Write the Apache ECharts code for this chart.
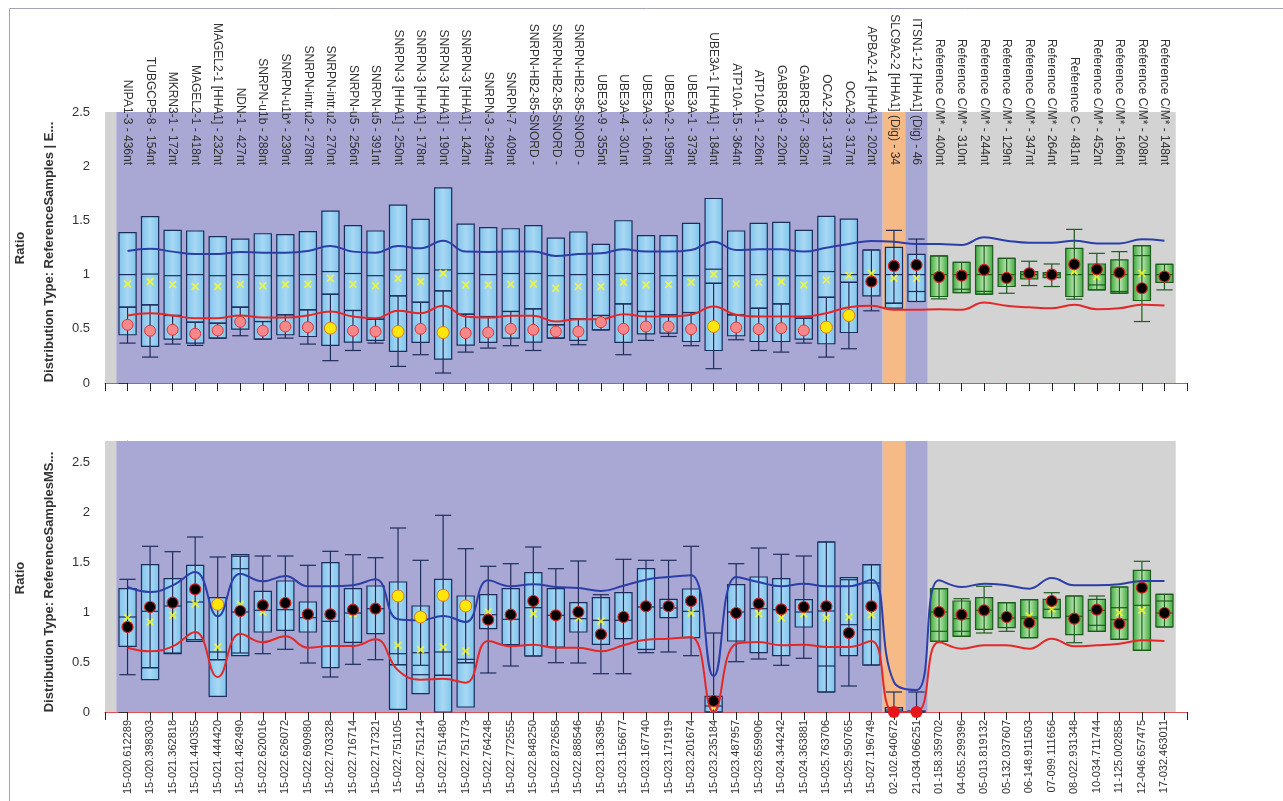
<!DOCTYPE html>
<html>
<head>
<meta charset="utf-8">
<script src="https://cdn.jsdelivr.net/npm/echarts@6/dist/echarts.min.js"></script>
<style>
  html, body { margin: 0; padding: 0; background: #fff; }
  #chart { width: 1283px; height: 801px; }
</style>
</head>
<body>
<div id="chart"></div>
<script>
// probe names (top panel) and sample names (bottom panel)
const probeLabels = [
  'NIPA1-3 - 436nt', 'TUBGCP5-8 - 154nt', 'MKRN3-1 - 172nt', 'MAGEL2-1 - 418nt', 'MAGEL2-1 [HHA1] - 232nt',
  'NDN-1 - 427nt', 'SNRPN-u1b - 288nt', 'SNRPN-u1b* - 239nt', 'SNRPN-intr.u2 - 278nt', 'SNRPN-intr.u2 - 270nt',
  'SNRPN-u5 - 256nt', 'SNRPN-u5 - 391nt', 'SNRPN-3 [HHA1] - 250nt', 'SNRPN-3 [HHA1] - 178nt', 'SNRPN-3 [HHA1] - 190nt',
  'SNRPN-3 [HHA1] - 142nt', 'SNRPN-3 - 294nt', 'SNRPN-7 - 409nt', 'SNRPN-HB2-85-SNORD -', 'SNRPN-HB2-85-SNORD -',
  'SNRPN-HB2-85-SNORD -', 'UBE3A-9 - 355nt', 'UBE3A-4 - 301nt', 'UBE3A-3 - 160nt', 'UBE3A-2 - 195nt',
  'UBE3A-1 - 373nt', 'UBE3A-1 [HHA1] - 184nt', 'ATP10A-15 - 364nt', 'ATP10A-1 - 226nt', 'GABRB3-9 - 220nt',
  'GABRB3-7 - 382nt', 'OCA2-23 - 137nt', 'OCA2-3 - 317nt', 'APBA2-14 [HHA1] - 202nt', 'SLC9A2-2 [HHA1] (Dig) - 34',
  'ITSN1-12 [HHA1] (Dig) - 46', 'Reference C/M* - 400nt', 'Reference C/M* - 310nt', 'Reference C/M* - 244nt',
  'Reference C/M* - 129nt', 'Reference C/M* - 347nt', 'Reference C/M* - 264nt', 'Reference C - 481nt',
  'Reference C/M* - 452nt', 'Reference C/M* - 166nt', 'Reference C/M* - 208nt', 'Reference C/M* - 148nt'
];
const sampleLabels = [
  '15-020.612289', '15-020.398303', '15-021.362818', '15-021.440355', '15-021.444420', '15-021.482490',
  '15-022.620016', '15-022.626072', '15-022.690980', '15-022.703328', '15-022.716714', '15-022.717321',
  '15-022.751105', '15-022.751214', '15-022.751480', '15-022.751773', '15-022.764248', '15-022.772555',
  '15-022.848250', '15-022.872658', '15-022.888546', '15-023.136395', '15-023.156677', '15-023.167740',
  '15-023.171919', '15-023.201674', '15-023.235184', '15-023.487957', '15-023.659906', '15-024.344242',
  '15-024.363881', '15-025.763706', '15-025.950765', '15-027.196749', '02-102.640672', '21-034.066251',
  '01-158.359702', '04-055.299396', '05-013.819132', '05-132.037607', '06-148.911503', '07-099.111656',
  '08-022.931348', '10-034.711744', '11-125.002858', '12-046.657475', '17-032.463011'
];
const refStart = 36; // first reference probe / sample (green boxes)

// ---- top panel: ReferenceSamples ----
const topBoxHigh = [1.387, 1.534, 1.408, 1.402, 1.35, 1.328, 1.377, 1.368, 1.396, 1.586, 1.451, 1.402, 1.641, 1.509, 1.80, 1.466,
  1.433, 1.423, 1.451, 1.337, 1.393, 1.279, 1.497, 1.359, 1.359, 1.472, 1.702, 1.402, 1.472, 1.482, 1.408, 1.537, 1.512,
  1.227, 1.252, 1.187, 1.172, 1.113, 1.267, 1.15, 1.028, 1.018, 1.242, 1.098, 1.135, 1.267, 1.095];
const topBoxLow = [0.445, 0.337, 0.405, 0.368, 0.414, 0.497, 0.405, 0.445, 0.429, 0.347, 0.377, 0.393, 0.291, 0.374, 0.221, 0.35,
  0.374, 0.414, 0.377, 0.414, 0.393, 0.49, 0.374, 0.454, 0.46, 0.383, 0.30, 0.436, 0.383, 0.383, 0.405, 0.362, 0.466,
  0.804, 0.69, 0.752, 0.798, 0.834, 0.819, 0.89, 0.96, 0.972, 0.798, 0.859, 0.828, 0.761, 0.929];
const topMedian = [1.0, 1.005, 0.99, 1.0, 0.99, 1.0, 0.99, 0.99, 1.0, 1.028, 1.01, 0.99, 1.043, 1.01, 1.043, 1.01,
  1.0, 1.01, 1.01, 0.99, 1.0, 1.0, 1.01, 1.01, 0.99, 0.99, 1.05, 0.99, 1.0, 0.99, 0.99, 1.028, 1.0,
  1.0, 1.0, 1.0, 1.0, 1.0, 1.0, 1.0, 1.0, 1.0, 1.0, 1.0, 1.0, 1.0, 1.0];
const topInner = [0.70, 0.721, 0.623, 0.561, 0.552, 0.70, 0.567, 0.629, 0.675, 0.819, 0.669, 0.589, 0.804, 0.745, 0.85, 0.635,
  0.613, 0.66, 0.684, 0.537, 0.592, 0.623, 0.73, 0.66, 0.629, 0.65, 0.92, 0.629, 0.69, 0.73, 0.598, 0.791, 0.929,
  null, 0.736, 0.844, null, 0.865, 0.845, null, null, null, null, 0.905, 0.844, 1.175, null];
const topWhiskerHigh = [0.70, 0.721, 0.623, 0.561, 0.552, 0.70, 0.567, 0.629, 0.675, 0.819, 0.669, 0.589, 0.804, 0.745, 0.85, 0.635,
  0.613, 0.66, 0.684, 0.537, 0.592, 0.623, 0.73, 0.66, 0.629, 0.65, 0.92, 0.629, 0.69, 0.73, 0.598, 0.791, 0.929,
  1.227, 1.408, 1.328, 1.172, 1.113, 1.267, 1.15, 1.123, 1.098, 1.417, 1.196, 1.212, 1.267, 1.095];
const topWhiskerLow = [0.368, 0.239, 0.359, 0.347, 0.414, 0.436, 0.405, 0.414, 0.359, 0.206, 0.30, 0.368, 0.153, 0.261, 0.092, 0.285,
  0.322, 0.344, 0.30, 0.414, 0.353, 0.49, 0.261, 0.393, 0.429, 0.344, 0.132, 0.399, 0.30, 0.285, 0.368, 0.239, 0.316,
  0.666, 0.736, 0.752, 0.776, 0.834, 0.819, 0.828, 0.899, 0.89, 0.773, 0.859, 0.828, 0.567, 0.859];
const topMean = [0.914, 0.936, 0.908, 0.89, 0.89, 0.911, 0.896, 0.908, 0.911, 0.966, 0.911, 0.896, 0.966, 0.936, 1.012, 0.905,
  0.905, 0.911, 0.914, 0.874, 0.89, 0.89, 0.929, 0.905, 0.908, 0.929, 1.003, 0.914, 0.926, 0.936, 0.905, 0.951, 0.991,
  1.012, 0.966, 0.966, 1.0, 1.0, 1.043, 0.99, 1.0, 1.0, 1.03, 0.98, 1.0, 1.012, 1.0];
const topSample = [0.537, 0.482, 0.491, 0.454, 0.485, 0.564, 0.482, 0.521, 0.515, 0.506, 0.482, 0.475, 0.475, 0.50, 0.466, 0.46,
  0.466, 0.50, 0.491, 0.475, 0.475, 0.561, 0.50, 0.521, 0.521, 0.497, 0.521, 0.512, 0.497, 0.506, 0.485, 0.515, 0.623,
  0.936, 1.08, 1.089, 0.979, 0.99, 1.043, 0.969, 1.012, 1.0, 1.095, 1.049, 1.018, 0.874, 0.982];
const topSampleKind = 'pppppppppyppypypppppppppppyppppyybbbbbbbbbbbbbb'.split('');
const topUpper = [1.218, 1.239, 1.212, 1.19, 1.19, 1.209, 1.202, 1.202, 1.218, 1.264, 1.212, 1.202, 1.264, 1.242, 1.313, 1.212,
  1.209, 1.212, 1.212, 1.172, 1.19, 1.196, 1.233, 1.212, 1.212, 1.227, 1.304, 1.227, 1.233, 1.233, 1.212, 1.248, 1.282,
  1.31, 1.304, 1.282, 1.282, 1.273, 1.344, 1.313, 1.294, 1.294, 1.313, 1.288, 1.288, 1.325, 1.313];
const topLower = [0.623, 0.644, 0.623, 0.598, 0.598, 0.623, 0.604, 0.604, 0.623, 0.66, 0.613, 0.598, 0.666, 0.644, 0.712, 0.613,
  0.604, 0.62, 0.62, 0.567, 0.589, 0.589, 0.635, 0.613, 0.613, 0.629, 0.706, 0.629, 0.613, 0.613, 0.613, 0.644, 0.699,
  0.712, 0.675, 0.675, 0.681, 0.675, 0.742, 0.712, 0.699, 0.69, 0.721, 0.681, 0.69, 0.721, 0.715];

// ---- bottom panel: ReferenceSamplesMS ----
const botBoxHigh = [1.233, 1.473, 1.333, 1.467, 1.143, 1.573, 1.207, 1.31, 1.1, 1.493, 1.233, 1.26, 1.3, 1.06, 1.327, 1.16,
  1.173, 1.233, 1.393, 1.233, 1.093, 1.143, 1.193, 1.433, 1.127, 1.23, 0.157, 1.273, 1.35, 1.333, 1.123, 1.7, 1.343,
  1.473, 0.043, 0.01, 1.233, 1.11, 1.143, 1.093, 1.123, 1.127, 1.16, 1.127, 1.25, 1.417, 1.177];
const botBoxLow = [0.657, 0.323, 0.583, 0.707, 0.157, 0.563, 0.8, 0.817, 0.8, 0.443, 0.697, 0.783, 0.027, 0.183, 0.0, 0.05,
  0.833, 0.673, 0.56, 0.65, 0.8, 0.677, 0.733, 0.627, 0.943, 0.743, 0.0, 0.71, 0.593, 0.563, 0.85, 0.2, 0.563,
  0.47, 0.0, 0.0, 0.707, 0.757, 0.827, 0.843, 0.743, 0.943, 0.773, 0.807, 0.727, 0.617, 0.85];
const botMedian = [0.95, 1.007, 1.06, 1.1, 0.6, 1.0, 1.017, 1.023, 0.943, 0.907, 0.99, 1.033, 0.583, 0.593, 0.6, 0.527,
  0.973, 0.927, 1.043, 0.967, 0.933, 0.917, 0.917, 1.05, 1.04, 1.007, 0.06, 1.0, 1.033, 1.023, 1.0, 1.01, 0.873,
  1.29, 0.02, null, 1.0, 0.933, 1.017, 0.94, 0.95, 1.027, 0.957, 1.017, 1.043, 1.067, 0.99];
const botInner = [null, 0.443, null, null, 0.523, 1.433, null, null, null, null, null, null, 0.473, 0.373, 0.367, 0.493,
  null, null, null, null, null, null, null, null, null, null, null, null, null, null, null, 0.46, null,
  0.823, null, null, 0.807, 0.807, null, null, 0.933, null, null, 0.867, 0.923, null, 1.11];
const botWhiskerHigh = [1.327, 1.657, 1.603, 1.75, 1.55, 1.557, 1.56, 1.56, 1.467, 1.607, 1.573, 1.543, 1.84, 1.517, 1.967, 1.633,
  1.457, 1.483, 1.65, 1.433, 1.51, 1.173, 1.527, 1.517, 1.517, 1.657, 0.79, 1.483, 1.64, 1.577, 1.56, 1.7, 1.323,
  1.473, 0.2, 0.2, 1.233, 1.133, 1.257, 1.093, 1.123, 1.193, 1.16, 1.16, 1.25, 1.507, 1.177];
const botWhiskerLow = [0.373, 0.443, 0.59, 0.723, 0.523, 0.59, 0.583, 0.627, 0.49, 0.35, 0.477, 0.523, 0.473, 0.467, 0.367, 0.493,
  0.39, 0.46, 0.56, 0.493, 0.49, 0.383, 0.383, 0.593, 0.6, 0.563, 0.0, 0.503, 0.53, 0.467, 0.537, 0.2, 0.26,
  0.47, 0.0, 0.0, 0.707, 0.757, 0.79, 0.807, 0.743, 0.943, 0.693, 0.807, 0.727, 0.617, 0.85];
const botMean = [0.943, 0.9, 0.967, 1.083, 0.65, 1.077, 1.0, null, null, null, 0.983, null, 0.667, 0.623, 0.65, 0.61,
  1.0, null, 0.983, null, 0.94, 0.907, null, null, null, 0.99, 0.04, null, 0.983, 0.943, 0.983, 0.943, 0.95,
  0.973, null, null, null, null, null, null, 0.96, 1.033, null, null, 0.993, 1.017, null];
const botSample = [0.85, 1.05, 1.093, 1.227, 1.077, 1.01, 1.067, 1.09, 0.977, 0.977, 1.023, 1.033, 1.16, 0.95, 1.167, 1.06,
  0.923, 0.973, 1.11, 0.967, 1.0, 0.777, 0.95, 1.057, 1.057, 1.11, 0.11, 0.99, 1.083, 1.027, 1.05, 1.057, 0.79,
  1.057, 0.0, 0.0, 1.0, 0.973, 1.017, 0.95, 0.893, 1.11, 0.933, 1.023, 0.883, 1.243, 0.99];
const botSampleKind = 'bbbbybbbbbbbyyyybbbbbbbbbbbbbbbbbbrrbbbbbbbbbbb'.split('');
const botUpper = [1.25, 1.2, 1.267, 1.4, 0.957, 1.383, 1.307, 1.36, 1.257, 1.257, 1.267, 1.327, 0.927, 0.917, 0.96, 0.9,
  1.317, 1.257, 1.277, 1.25, 1.24, 1.21, 1.263, 1.323, 1.35, 1.367, 0.357, 1.35, 1.3, 1.257, 1.283, 1.257, 1.257,
  1.323, 0.3, 0.22, 1.317, 1.25, 1.283, 1.267, 1.233, 1.34, 1.267, 1.267, 1.277, 1.31, 1.31];
const botLower = [0.643, 0.607, 0.657, 0.8, 0.35, 0.783, 0.697, 0.757, 0.643, 0.66, 0.66, 0.727, 0.417, 0.323, 0.333, 0.293,
  0.71, 0.657, 0.673, 0.643, 0.643, 0.607, 0.667, 0.723, 0.733, 0.75, 0.0, 0.683, 0.7, 0.667, 0.673, 0.65, 0.65,
  0.71, 0.0, 0.0, 0.7, 0.633, 0.667, 0.667, 0.633, 0.733, 0.657, 0.667, 0.683, 0.717, 0.71];

// background bands, in category units
const bands = [[-1, -0.5, '#d3d3d3'], [-0.5, 33.5, '#a9a8d5'], [33.5, 34.5, '#f6ba86'], [34.5, 35.5, '#a9a8d5'], [35.5, 46.5, '#d3d3d3']];

const AXIS_RED = '#e05050';
const FONT = '"Liberation Sans", Arial, sans-serif';
const xMark = 'path://M0,1.5 L1.5,0 L5,3.5 L8.5,0 L10,1.5 L6.5,5 L10,8.5 L8.5,10 L5,6.5 L1.5,10 L0,8.5 L3.5,5 Z';

const blueFill = {
  type: 'linear', x: 0, y: 0, x2: 1, y2: 0,
  colorStops: [{ offset: 0, color: '#7ec3ec' }, { offset: 0.5, color: '#a8d8f3' }, { offset: 1, color: '#7ec3ec' }],
};
const greenFill = {
  type: 'linear', x: 0, y: 0, x2: 1, y2: 0,
  colorStops: [{ offset: 0, color: '#36a636' }, { offset: 0.5, color: '#bde7b4' }, { offset: 1, color: '#36a636' }],
};

function makeBoxRenderer(hi, lo, med, inner, wHi, wLo) {
  return (params, api) => {
    const i = api.value(0);
    const slot = api.size([1, 0])[0];
    const cx = api.coord([i, 0])[0];
    const yOf = v => api.coord([i, v])[1];
    const green = i >= refStart;
    const edge = green ? '#1e5c1e' : '#1c2c5c';
    const bw = slot * 0.76;
    const cw = slot * 0.72;
    const kids = [];
    const top = yOf(hi[i]);
    const bot = yOf(lo[i]);
    kids.push({
      type: 'rect',
      shape: { x: cx - bw / 2, y: top, width: bw, height: Math.max(bot - top, 1) },
      style: { fill: green ? greenFill : blueFill, stroke: edge, lineWidth: 1.2 },
    });
    [med[i], inner[i]].forEach(v => {
      if (v == null) return;
      const y = yOf(v);
      kids.push({ type: 'line', shape: { x1: cx - bw / 2, y1: y, x2: cx + bw / 2, y2: y }, style: { stroke: edge, lineWidth: 1.2 } });
    });
    if (wHi[i] != null && wLo[i] != null) {
      const a = yOf(wHi[i]);
      const b = yOf(wLo[i]);
      kids.push({ type: 'line', shape: { x1: cx, y1: a, x2: cx, y2: b }, style: { stroke: edge, lineWidth: 1.2 } });
      kids.push({ type: 'line', shape: { x1: cx - cw / 2, y1: a, x2: cx + cw / 2, y2: a }, style: { stroke: edge, lineWidth: 1.2 } });
      kids.push({ type: 'line', shape: { x1: cx - cw / 2, y1: b, x2: cx + cw / 2, y2: b }, style: { stroke: edge, lineWidth: 1.2 } });
    }
    return { type: 'group', children: kids };
  };
}

const dotStyles = {
  p: { color: '#f4888a', borderColor: '#e03434', borderWidth: 1, size: 11 },
  y: { color: '#ffe60a', borderColor: '#e0781a', borderWidth: 1, size: 12 },
  b: { color: '#000000', borderColor: '#d82020', borderWidth: 1.2, size: 11 },
  r: { color: '#e8141c', borderColor: '#e8141c', borderWidth: 0, size: 12 },
};

function panelSeries(g, d) {
  const xi = g === 0 ? 0 : 2;
  const out = [];
  out.push({
    type: 'line', xAxisIndex: xi, yAxisIndex: g, data: [], z: 0, silent: true,
    markArea: {
      silent: true,
      data: bands.map(b => [{ xAxis: b[0], itemStyle: { color: b[2] } }, { xAxis: b[1] }]),
    },
  });
  out.push({
    type: 'custom', xAxisIndex: xi, yAxisIndex: g, z: 2, silent: true,
    data: d.hi.map((v, i) => [i, v]),
    renderItem: makeBoxRenderer(d.hi, d.lo, d.med, d.inner, d.wHi, d.wLo),
  });
  out.push({
    type: 'scatter', xAxisIndex: xi, yAxisIndex: g, z: 3, silent: true,
    symbol: xMark, symbolSize: 8, itemStyle: { color: '#ffff14' },
    data: d.mean.map((v, i) => [i, v]).filter(p => p[1] != null),
  });
  [['upper', '#2c3ea8'], ['lower', '#e42828']].forEach(([k, c]) => {
    out.push({
      type: 'line', xAxisIndex: xi, yAxisIndex: g, z: 4, silent: true,
      smooth: 0.45, symbol: 'none', lineStyle: { color: c, width: 2 },
      data: d[k].map((v, i) => [i, v]),
    });
  });
  Object.keys(dotStyles).forEach(kind => {
    const s = dotStyles[kind];
    const pts = d.sample.map((v, i) => [i, v]).filter((p, i) => d.kind[i] === kind);
    if (!pts.length) return;
    out.push({
      type: 'scatter', xAxisIndex: xi, yAxisIndex: g, z: 5, silent: true,
      symbolSize: s.size, itemStyle: { color: s.color, borderColor: s.borderColor, borderWidth: s.borderWidth, opacity: 1 },
      data: pts,
    });
  });
  return out;
}

const xBase = {
  type: 'value', min: -1, max: 47, interval: 1,
  splitLine: { show: false },
  axisLine: { lineStyle: { color: AXIS_RED, width: 1 } },
  axisTick: { length: 8, lineStyle: { color: '#222' } },
};
const yBase = {
  type: 'value', min: 0, interval: 0.5,
  splitLine: { show: false },
  axisLine: { show: true, lineStyle: { color: AXIS_RED, width: 1 } },
  axisTick: { show: true, length: 9, lineStyle: { color: '#333' } },
  axisLabel: { color: '#333', fontSize: 13, fontFamily: FONT, margin: 15 },
};
const tickVals = [0, 0.5, 1, 1.5, 2, 2.5];

const chart = echarts.init(document.getElementById('chart'));
chart.setOption({
  animation: false,
  backgroundColor: '#fff',
  grid: [
    { left: 105, right: 96, top: 112, height: 271 },
    { left: 105, right: 96, top: 441, height: 271 },
  ],
  xAxis: [
    Object.assign({}, xBase, { gridIndex: 0, axisLabel: { show: false } }),
    {
      type: 'value', gridIndex: 0, position: 'top', min: -1, max: 47, interval: 1, offset: -57, z: 20,
      splitLine: { show: false }, axisLine: { show: false }, axisTick: { show: false },
      axisLabel: {
        rotate: 90, margin: 4, color: '#333', fontSize: 12, fontFamily: FONT,
        formatter: v => probeLabels[Math.round(v)] || '',
      },
    },
    Object.assign({}, xBase, {
      gridIndex: 1,
      axisLabel: {
        rotate: 90, margin: 8, color: '#333', fontSize: 11, fontFamily: FONT,
        formatter: v => sampleLabels[Math.round(v)] || '',
      },
    }),
  ],
  yAxis: [
    Object.assign({}, yBase, { gridIndex: 0, max: 2.5 }),
    Object.assign({}, yBase, {
      gridIndex: 1, max: 2.71,
      axisTick: Object.assign({}, yBase.axisTick, { customValues: tickVals }),
      axisLabel: Object.assign({}, yBase.axisLabel, { customValues: tickVals }),
    }),
  ],
  graphic: [
    { type: 'rect', left: 7, top: 6, silent: true, shape: { width: 1300, height: 820 }, style: { fill: null, stroke: '#a0a4b4', lineWidth: 1 } },
    { type: 'text', x: 20, y: 248, rotation: Math.PI / 2, silent: true, style: { text: 'Ratio', font: 'bold 13px ' + FONT, fill: '#333', align: 'center', verticalAlign: 'middle' } },
    { type: 'text', x: 49, y: 252, rotation: Math.PI / 2, silent: true, style: { text: 'Distribution Type: ReferenceSamples | E...', font: 'bold 13px ' + FONT, fill: '#333', align: 'center', verticalAlign: 'middle' } },
    { type: 'text', x: 20, y: 578, rotation: Math.PI / 2, silent: true, style: { text: 'Ratio', font: 'bold 13px ' + FONT, fill: '#333', align: 'center', verticalAlign: 'middle' } },
    { type: 'text', x: 49, y: 582, rotation: Math.PI / 2, silent: true, style: { text: 'Distribution Type: ReferenceSamplesMS...', font: 'bold 13px ' + FONT, fill: '#333', align: 'center', verticalAlign: 'middle' } },
  ],
  series: [].concat(
    panelSeries(0, {
      hi: topBoxHigh, lo: topBoxLow, med: topMedian, inner: topInner, wHi: topWhiskerHigh, wLo: topWhiskerLow,
      mean: topMean, sample: topSample, kind: topSampleKind, upper: topUpper, lower: topLower,
    }),
    panelSeries(1, {
      hi: botBoxHigh, lo: botBoxLow, med: botMedian, inner: botInner, wHi: botWhiskerHigh, wLo: botWhiskerLow,
      mean: botMean, sample: botSample, kind: botSampleKind, upper: botUpper, lower: botLower,
    })
  ),
});
</script>
</body>
</html>
